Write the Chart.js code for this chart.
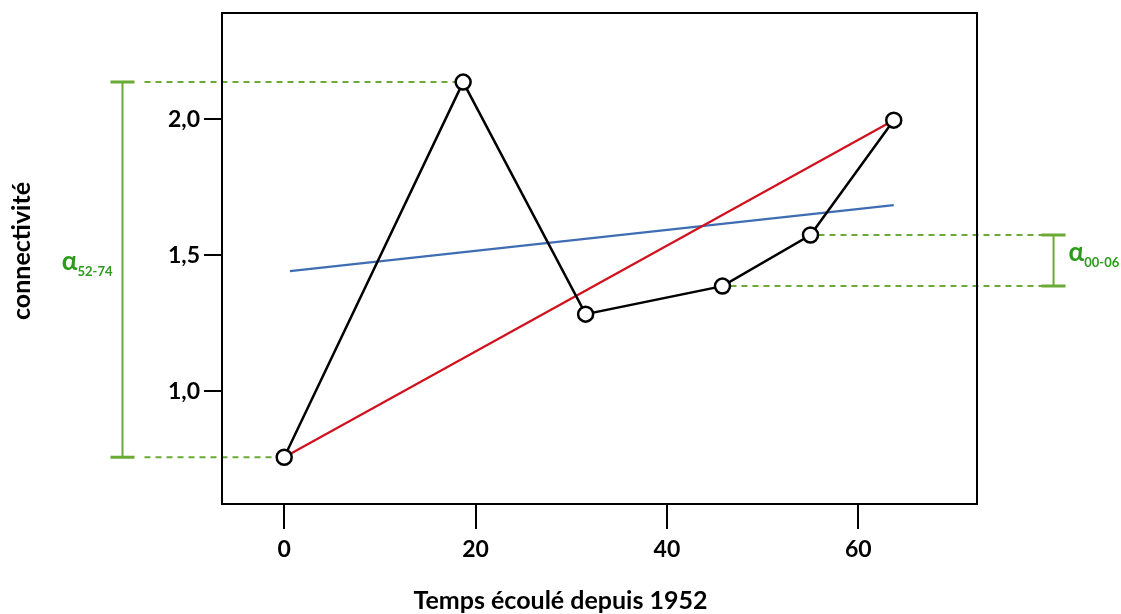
<!DOCTYPE html>
<html>
<head>
<meta charset="utf-8">
<script src="https://cdn.jsdelivr.net/npm/chart.js@4/dist/chart.umd.min.js"></script>
<style>
  html, body { margin: 0; padding: 0; background: #fff; }
  #wrap { width: 1121px; height: 614px; }
</style>
</head>
<body>
<div id="wrap"><canvas id="chart" width="1121" height="614"></canvas></div>
<script>
// valeurs
var years = [0, 18.7, 31.5, 45.8, 55.0, 63.7];
var connectivite = [0.757, 2.136, 1.283, 1.386, 1.574, 1.996];
var redX = [0, 63.7];
var redY = [0.757, 1.996];
var blueX = [0.6, 63.7];
var blueY = [1.441, 1.684];
var xTicks = [0, 20, 40, 60];
var yTicks = [1.0, 1.5, 2.0];
var yTickLabels = ['1,0', '1,5', '2,0'];
var xTitle = 'Temps écoulé depuis 1952';
var yTitle = 'connectivité';

// crochets alpha : indices des points et position en x (unités de l'axe)
var alphaLeft = { from: 0, to: 1, x: -16.9, dashFrom: -14.6, label: 'α', sub: '52-74' };
var alphaRight = { from: 3, to: 4, x: 80.4, dashTo: 79.2, label: 'α', sub: '00-06' };

var lineGreen = '#6aaa35';
var textGreen = '#2a9c1a';
var fontName = 'Lato';

function toXY(xs, ys) {
	var out = [];
	for (var i = 0; i < xs.length; i++) out.push({ x: xs[i], y: ys[i] });
	return out;
}

var frame = {
	id: 'frame',
	afterDatasetsDraw: function(chart) {
		var a = chart.chartArea, ctx = chart.ctx;
		ctx.save();
		ctx.strokeStyle = '#000';
		ctx.lineWidth = 2;
		ctx.strokeRect(a.left, a.top, a.right - a.left, a.bottom - a.top);
		ctx.restore();
	},
	afterDraw: function(chart) {
		// titres des axes, centrés comme sur l'original
		var ctx = chart.ctx;
		ctx.save();
		ctx.fillStyle = '#000';
		ctx.textAlign = 'center';
		ctx.textBaseline = 'middle';
		ctx.font = 'bold 25px ' + fontName;
		ctx.fillText(xTitle, chart.width / 2, 601);
		ctx.translate(22, 251);
		ctx.rotate(-Math.PI / 2);
		ctx.font = 'bold 25px ' + fontName;
		ctx.fillText(yTitle, 0, 0);
		ctx.restore();
	}
};

function drawBracket(ctx, xs, ys, def, side) {
	var y1 = ys.getPixelForValue(connectivite[def.from]);
	var y2 = ys.getPixelForValue(connectivite[def.to]);
	var bx = xs.getPixelForValue(def.x);
	var cap = 12;

	// pointillés
	ctx.save();
	ctx.strokeStyle = lineGreen;
	ctx.lineWidth = 2;
	ctx.setLineDash([6, 5]);
	[def.from, def.to].forEach(function(i) {
		var py = ys.getPixelForValue(connectivite[i]);
		var px = xs.getPixelForValue(years[i]);
		ctx.beginPath();
		if (side === 'left') {
			ctx.moveTo(xs.getPixelForValue(def.dashFrom), py);
			ctx.lineTo(px - 8, py);
		} else {
			ctx.moveTo(px + 8, py);
			ctx.lineTo(xs.getPixelForValue(def.dashTo), py);
		}
		ctx.stroke();
	});
	ctx.restore();

	// crochet
	ctx.save();
	ctx.strokeStyle = lineGreen;
	ctx.lineWidth = 2;
	ctx.beginPath();
	ctx.moveTo(bx, y1); ctx.lineTo(bx, y2);
	ctx.stroke();
	ctx.lineWidth = 3;
	ctx.beginPath();
	ctx.moveTo(bx - cap, y1); ctx.lineTo(bx + cap, y1);
	ctx.moveTo(bx - cap, y2); ctx.lineTo(bx + cap, y2);
	ctx.stroke();

	// étiquette alpha
	var mid = (y1 + y2) / 2;
	var bigFont = 'bold 26px ' + fontName;
	var subFont = 'bold 13px ' + fontName;
	ctx.fillStyle = textGreen;
	ctx.textBaseline = 'middle';
	ctx.font = bigFont;
	var aw = ctx.measureText(def.label).width;
	ctx.font = subFont;
	var sw = ctx.measureText(def.sub).width;
	var startX = side === 'left' ? bx - 10 - aw - sw : bx + 15;
	ctx.textAlign = 'left';
	ctx.font = bigFont;
	ctx.fillText(def.label, startX, mid - 8);
	ctx.font = subFont;
	ctx.fillText(def.sub, startX + aw, mid + 2);
	ctx.restore();
}

var alphas = {
	id: 'alphas',
	beforeDatasetsDraw: function(chart) {
		var xs = chart.scales.x, ys = chart.scales.y;
		drawBracket(chart.ctx, xs, ys, alphaLeft, 'left');
		drawBracket(chart.ctx, xs, ys, alphaRight, 'right');
	}
};

const ctx = document.getElementById('chart');
const chart = new Chart(ctx, {
	type: 'scatter',
	data: {
		datasets: [{
			label: 'connectivité',
			data: toXY(years, connectivite),
			showLine: true,
			borderColor: '#000',
			borderWidth: 2.5,
			pointRadius: 7.5,
			pointBorderWidth: 2.5,
			pointBackgroundColor: '#fff',
			pointBorderColor: '#000'
		}, {
			label: 'rouge',
			data: toXY(redX, redY),
			showLine: true,
			borderColor: '#d0121e',
			borderWidth: 2.2,
			pointRadius: 0
		}, {
			label: 'bleu',
			data: toXY(blueX, blueY),
			showLine: true,
			borderColor: '#3f6db3',
			borderWidth: 2.2,
			pointRadius: 0
		}]
	},
	options: {
		responsive: false,
		animation: false,
		layout: { padding: { left: 0, right: 144, top: 13, bottom: 0 } },
		plugins: {
			legend: { display: false },
			tooltip: { enabled: false }
		},
		scales: {
			x: {
				type: 'linear',
				min: -6.5,
				max: 72.4,
				afterBuildTicks: function(scale) {
					scale.ticks = xTicks.map(function(v) { return { value: v }; });
				},
				afterFit: function(scale) {
					scale.height = 110;
					scale.paddingLeft = 0;
					scale.paddingRight = 0;
				},
				grid: { drawOnChartArea: false, drawTicks: true, tickLength: 25, color: '#000', lineWidth: 2 },
				border: { display: true, color: '#000', width: 2 },
				ticks: {
					color: '#000',
					padding: 7,
					maxRotation: 0,
					font: { family: fontName, size: 23, weight: 'bold' }
				},
				title: { display: false }
			},
			y: {
				type: 'linear',
				min: 0.585,
				max: 2.39,
				afterBuildTicks: function(scale) {
					scale.ticks = yTicks.map(function(v) { return { value: v }; });
				},
				afterFit: function(scale) {
					scale.width = 222;
					scale.paddingTop = 0;
					scale.paddingBottom = 0;
				},
				grid: { drawOnChartArea: false, drawTicks: true, tickLength: 18, color: '#000', lineWidth: 2 },
				border: { display: true, color: '#000', width: 2 },
				ticks: {
					color: '#000',
					padding: 4,
					font: { family: fontName, size: 23, weight: 'bold' },
					callback: function(value, index) { return yTickLabels[index]; }
				},
				title: { display: false }
			}
		}
	},
	plugins: [alphas, frame]
});
</script>
</body>
</html>
